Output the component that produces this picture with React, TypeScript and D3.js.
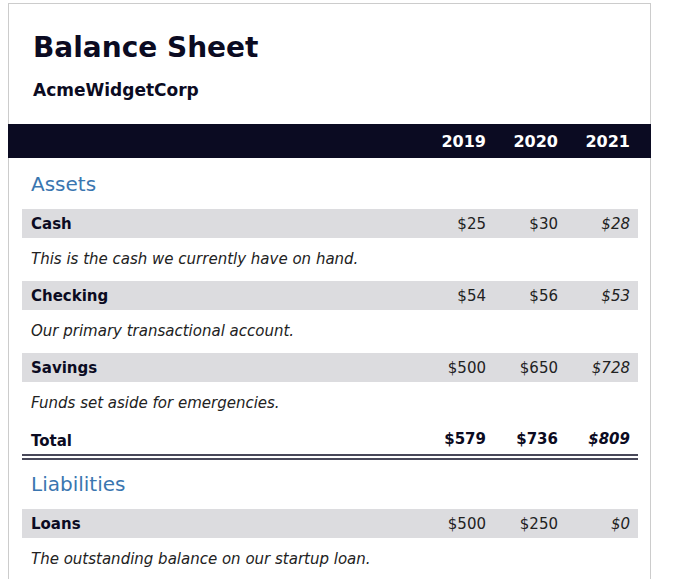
import * as d3 from 'd3';

const years = ['2019', '2020', '2021'];
const assetLabels = ['Cash', 'Checking', 'Savings'];
const assetNotes = [
  'This is the cash we currently have on hand.',
  'Our primary transactional account.',
  'Funds set aside for emergencies.',
];
const assetValues = [
  [25, 30, 28],
  [54, 56, 53],
  [500, 650, 728],
];
const liabilityLabels = ['Loans'];
const liabilityNotes = ['The outstanding balance on our startup loan.'];
const liabilityValues = [[500, 250, 0]];

export default function App() {
  const width = 675;
  const height = 579;
  const font = 'DejaVu Sans, sans-serif';
  const left = 8;
  const right = 651;
  const rowLeft = 22;
  const rowRight = 638;
  const rowH = 29;
  const pitch = 72;

  const xCol = d3.scaleLinear().domain([0, 2]).range([486, 630]);
  const money = (v: number) => `$${d3.format(',')(v)}`;
  const totals = years.map((_, i) => d3.sum(assetValues, (r) => r[i]));

  const row = (label: string, note: string, vals: number[], top: number, key: string) => (
    <g key={key}>
      <rect x={rowLeft} y={top} width={rowRight - rowLeft} height={rowH} fill="#dcdcdf" />
      <text x={31} y={top + 20} fontWeight="bold" fontSize={15} fill="#0b0b22">
        {label}
      </text>
      {vals.map((v, i) => (
        <text
          key={i}
          x={xCol(i)}
          y={top + 20}
          textAnchor="end"
          fontSize={15}
          fontStyle={i === 2 ? 'italic' : 'normal'}
          fill="#222"
        >
          {money(v)}
        </text>
      ))}
      <text x={31} y={top + 55} fontStyle="italic" fontSize={15} fill="#222">
        {note}
      </text>
    </g>
  );

  return (
    <svg width={width} height={height} style={{ position: 'absolute', left: 0, top: 0 }} fontFamily={font}>
      <rect x={0} y={0} width={width} height={height} fill="#fff" />
      <rect x={left + 0.5} y={3.5} width={right - left - 1} height={height} fill="none" stroke="#ccc" />
      <text x={33} y={57} fontSize={28} fontWeight="bold" fill="#0b0b22">
        Balance Sheet
      </text>
      <text x={33} y={96} fontSize={17} fontWeight="bold" fill="#0b0b22">
        AcmeWidgetCorp
      </text>
      <rect x={left} y={124} width={right - left} height={34} fill="#0b0b22" />
      {years.map((y, i) => (
        <text key={y} x={xCol(i)} y={147} textAnchor="end" fontSize={16} fontWeight="bold" fill="#fff">
          {y}
        </text>
      ))}

      <text x={31} y={191} fontSize={20} fill="#3a76b0">
        Assets
      </text>
      {assetLabels.map((l, i) => row(l, assetNotes[i], assetValues[i], 209 + i * pitch, l))}

      <text x={31} y={446} fontSize={15} fontWeight="bold" fill="#0b0b22">
        Total
      </text>
      {totals.map((t, i) => (
        <text
          key={i}
          x={xCol(i)}
          y={444}
          textAnchor="end"
          fontSize={15}
          fontWeight="bold"
          fontStyle={i === 2 ? 'italic' : 'normal'}
          fill="#0b0b22"
        >
          {money(t)}
        </text>
      ))}
      <line x1={rowLeft} x2={rowRight} y1={455} y2={455} stroke="#0b0b22" strokeWidth={1.5} />
      <line x1={rowLeft} x2={rowRight} y1={459} y2={459} stroke="#0b0b22" strokeWidth={1.5} />

      <text x={31} y={491} fontSize={20} fill="#3a76b0">
        Liabilities
      </text>
      {liabilityLabels.map((l, i) => row(l, liabilityNotes[i], liabilityValues[i], 509 + i * pitch, l))}
    </svg>
  );
}
